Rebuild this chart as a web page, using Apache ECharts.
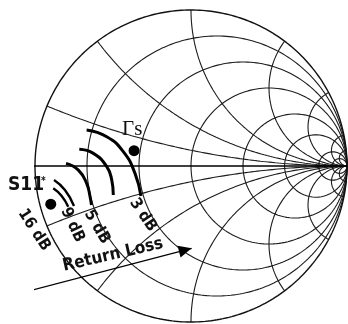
<!DOCTYPE html>
<html><head><meta charset="utf-8">
<script src="https://cdn.jsdelivr.net/npm/echarts@6/dist/echarts.min.js"></script>
<style>html,body{margin:0;padding:0;background:#fff}#c{width:348px;height:324px}</style>
</head><body><div id="c"></div>
<script>
// Smith chart grid values
const resistanceValues = [0.2, 0.5, 1, 2, 4, 10, 20];
const reactanceValues = [0.2, 0.5, 1, 2, 4, 10, 20];
// Points (reflection coefficient plane, Re / Im)
const gammaS = [[-0.365, 0.098]];
const s11Conj = [[-0.899, -0.245]];
// Return-loss arcs (points read along each arc)
const rl3dB = [[-0.669,0.231],[-0.540,0.188],[-0.434,0.092],[-0.359,-0.047],[-0.321,-0.192]];
const rl5dB = [[-0.716,0.107],[-0.626,0.081],[-0.540,-0.004],[-0.508,-0.090],[-0.498,-0.186]];
const rl9dB = [[-0.801,0.017],[-0.722,-0.026],[-0.669,-0.111],[-0.647,-0.197],[-0.638,-0.250]];
const rl16a = [[-0.878,-0.090],[-0.808,-0.154],[-0.750,-0.256]];
const rl16b = [[-0.883,-0.143],[-0.829,-0.192],[-0.787,-0.261]];
const returnLossArrow = [[-1.058,-0.806],[0.004,-0.528]];

const PX = 156;
function arcPts(cx, cy, rad, a0, a1) {
  const len = Math.abs(a1 - a0) * rad * PX;
  const n = Math.max(24, Math.ceil(len / 1.5));
  const out = [];
  for (let i = 0; i <= n; i++) {
    const a = a0 + (a1 - a0) * i / n;
    out.push([cx + rad * Math.cos(a), cy + rad * Math.sin(a)]);
  }
  return out;
}
function rCircle(r) { return arcPts(r / (1 + r), 0, 1 / (1 + r), 0, 2 * Math.PI); }
function xArc(x, sign) {
  const cy = 1 / x, rad = 1 / x;
  const gr = (x * x - 1) / (x * x + 1), gi = 2 * x / (x * x + 1);
  const a0 = -Math.PI / 2;
  let a1 = Math.atan2(gi - cy, gr - 1);
  if (a1 > a0) a1 -= 2 * Math.PI;
  return arcPts(1, cy, rad, a0, a1).map(p => [p[0], sign * p[1]]);
}
const gridColor = '#1c1c1c';
const series = [];
function lineS(data, width, color, smooth) {
  series.push({ type: 'line', data: data, showSymbol: false, smooth: smooth || false, clip: false,
    silent: true, animation: false, lineStyle: { width: width, color: color } });
}
resistanceValues.forEach(r => lineS(rCircle(r), 1.1, gridColor));
reactanceValues.forEach(x => { lineS(xArc(x, 1), 1.1, gridColor); lineS(xArc(x, -1), 1.1, gridColor); });
lineS(rCircle(0), 1.4, '#111');
lineS([[-1.02, 0], [1, 0]], 1.4, '#000');
lineS(rl3dB, 3, '#000', 0.5);
lineS(rl5dB, 3, '#000', 0.5);
lineS(rl9dB, 3, '#000', 0.5);
lineS(rl16a, 2.4, '#000', 0.5);
lineS(rl16b, 2.4, '#000', 0.5);

// arrow
const a0 = returnLossArrow[0], a1 = returnLossArrow[1];
const ang = Math.atan2(a1[1] - a0[1], a1[0] - a0[0]);
const headLen = 13;
series.push({
  type: 'line', clip: false, silent: true, animation: false, showSymbol: true,
  lineStyle: { width: 1.3, color: '#000' }, itemStyle: { color: '#000', opacity: 1 },
  data: [
    { value: a0, symbol: 'none' },
    { value: a1, symbol: 'triangle', symbolSize: [12, headLen],
      symbolRotate: ang * 180 / Math.PI - 90,
      symbolOffset: [-headLen / 2 * Math.cos(ang), headLen / 2 * Math.sin(ang)] }
  ]
});
series.push({ type: 'scatter', data: gammaS, symbolSize: 11, itemStyle: { color: '#000', opacity: 1 }, silent: true, animation: false });
series.push({ type: 'scatter', data: s11Conj, symbolSize: 11, itemStyle: { color: '#000', opacity: 1 }, silent: true, animation: false });

const condFont = "'DejaVu Sans Condensed','Liberation Sans Narrow',sans-serif";
function rotText(text, x, y, deg, size) {
  return { type: 'text', x: x, y: y, rotation: deg * Math.PI / 180,
    style: { text: text, fill: '#111', align: 'center', verticalAlign: 'middle',
      font: 'bold ' + size + 'px ' + condFont } };
}
const chart = echarts.init(document.getElementById('c'), null, { renderer: 'canvas' });
chart.setOption({
  animation: false,
  grid: { left: 35, right: 1, top: 10, bottom: 2 },
  xAxis: { type: 'value', min: -1, max: 1, show: false },
  yAxis: { type: 'value', min: -1, max: 1, show: false },
  series: series,
  graphic: [
    rotText('16 dB', 34, 230, -57, 16),
    rotText('9 dB', 72.5, 225, -65, 16),
    rotText('5 dB', 97, 227, -60, 16),
    rotText('3 dB', 143, 215, -56, 16),
    rotText('Return Loss', 113, 255, 13, 17),
    { type: 'text', x: 8, y: 185, style: { text: 'S11', fill: '#111', align: 'left', verticalAlign: 'middle', font: 'bold 19px ' + condFont } },
    { type: 'text', x: 41, y: 181, style: { text: '*', fill: '#111', align: 'left', verticalAlign: 'middle', font: 'bold 10px ' + condFont } },
    { type: 'text', x: 122, y: 129, style: { text: 'Γs', fill: '#111', align: 'left', verticalAlign: 'middle', font: "21px 'Liberation Serif','Times New Roman',serif" } }
  ]
});
</script></body></html>
